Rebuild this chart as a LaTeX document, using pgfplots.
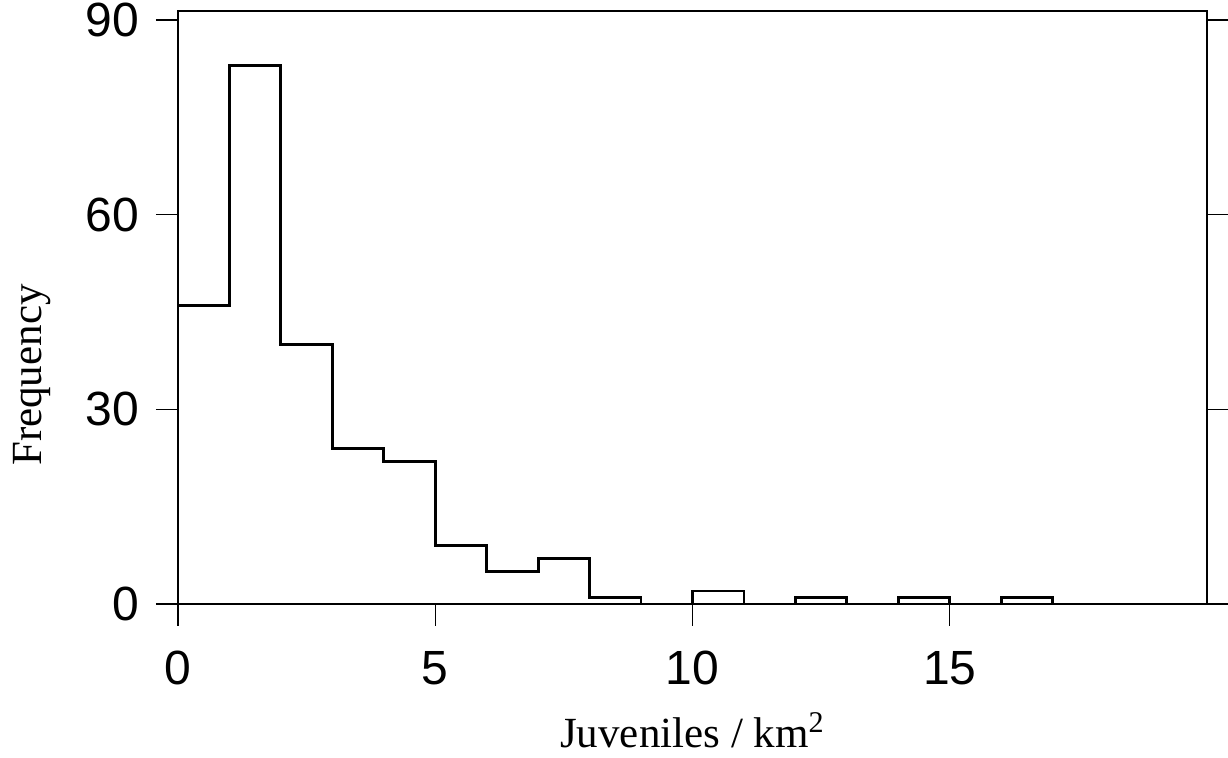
\documentclass[border=0pt]{standalone}
\usepackage{fontspec}
\setmainfont{Liberation Serif}
\newfontfamily\ticksans{Liberation Sans}
\usepackage{pgfplots}
\pgfplotsset{compat=1.18}

\begin{document}
\begin{tikzpicture}
\begin{axis}[
    scale only axis,
    width=514.5pt,
    height=296.5pt,
    xmin=0, xmax=20,
    ymin=0, ymax=91.4,
    xtick={0,5,10,15},
    ytick={0,30,60,90},
    xtick pos=left,
    ytick pos=both,
    tick align=outside,
    major tick length=11pt,
    tick style={black, line width=0.6pt},
    axis line style={black, line width=0.8pt},
    ticklabel style={font=\ticksans\fontsize{24}{28}\selectfont},
    xticklabel style={yshift=-9pt},
    yticklabel style={xshift=-5pt},
    /pgf/number format/assume math mode=true,
    xlabel={Juveniles / km\textsuperscript{2}},
    ylabel={Frequency},
    label style={font=\fontsize{21.5}{25}\selectfont},
    xlabel style={at={(axis description cs:0.5,-0.2428)}, anchor=base},
    ylabel style={at={(axis description cs:-0.1322,0.386)}, anchor=base},
    clip=false,
]
% histogram counts per bin of width 1
\addplot[const plot, black, line width=1.4pt] coordinates {
(0,0) (0,46) (1,83) (2,40) (3,24) (4,22) (5,9) (6,5) (7,7) (8,1) (9,0)
(10,2) (11,0) (12,1) (13,0) (14,1) (15,0) (16,1) (17,0) (20,0)
};
\coordinate (o) at (rel axis cs:0,0);
\end{axis}
\pgfresetboundingbox
\path (o) ++(-89pt,-77pt) rectangle ++(614pt,379pt);
\end{tikzpicture}
\end{document}
